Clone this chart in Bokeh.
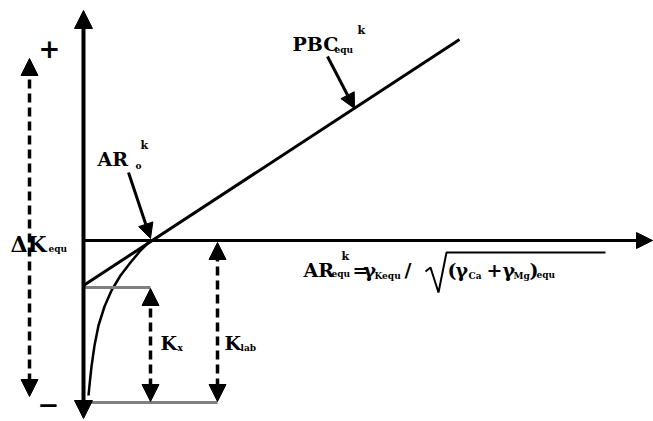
from bokeh.plotting import figure
from bokeh.models import Range1d, Arrow, NormalHead, ColumnDataSource
from bokeh.core.properties import value
from bokeh.embed import file_html
from bokeh.resources import INLINE

# ---- schematic geometry (reference pixel space, y grows downward) ----
pbc_x = [83, 459]
pbc_y = [285, 39]
curve_x = [88, 89.5, 91, 94, 98, 104, 111, 120, 130, 140, 150]
curve_y = [395, 380, 366, 345, 325, 306, 290, 275, 262, 250, 240]
gray_x = [[83, 150], [83, 217]]
gray_y = [[287, 287], [402, 402]]

vaxis = dict(xs=[83], ys=[418], xe=[83], ye=[10])
haxis = dict(xs=[83], ys=[240], xe=[652], ye=[240])
ptr = dict(xs=[128, 327], ys=[172, 56], xe=[150, 354], ye=[238, 108])
dbl = dict(xs=[29, 150, 217], ys=[396, 401, 401], xe=[29, 150, 217], ye=[58, 288, 242])

main_text = ["PBC", "AR", "AR", "=", "\u03b3", "/", "(", "\u03b3", "+", "\u03b3", ")", "K", "K"]
main_x = [292, 97, 303, 352, 363, 404, 447, 455, 486, 502, 529, 160, 224]
main_y = [43, 158, 269, 269, 269, 269, 269, 269, 269, 269, 269, 342, 342]

dk_text = ["\u0394K"]
dk_x = [10]
dk_y = [243]

sub_text = ["equ", "o", "equ", "equ", "Kequ", "Ca", "Mg", "equ", "x", "lab"]
sub_x = [334, 135, 48, 331, 374, 468, 513, 536, 177, 240]
sub_y = [49, 165, 248, 273, 275, 275, 275, 274, 347, 347]

sup_text = ["k", "k", "k"]
sup_x = [357, 140, 341]
sup_y = [30, 145, 256]

sign_text = ["+", "\u2212"]
sign_x = [49, 48]
sign_y = [48, 404]

rad_x = [425, 430, 438, 446, 605]
rad_y = [271, 267, 292, 252, 252]

SERIF_B = value("DejaVu Serif")

p = figure(width=653, height=421, output_backend="svg", toolbar_location=None,
           x_range=Range1d(0, 653), y_range=Range1d(421, 0),
           min_border=0)
p.axis.visible = False
p.xgrid.visible = False
p.ygrid.visible = False
p.outline_line_color = None
p.background_fill_color = "white"

p.line(pbc_x, pbc_y, line_color="black", line_width=3)
p.line(curve_x, curve_y, line_color="black", line_width=2.5)
p.multi_line(gray_x, gray_y, line_color="#808080", line_width=3)
p.line(rad_x, rad_y, line_color="black", line_width=2)

def arrows(d, lw, size, both, dash="solid"):
    src = ColumnDataSource(d)
    kw = dict(x_start="xs", y_start="ys", x_end="xe", y_end="ye", source=src,
              line_color="black", line_width=lw, line_dash=dash,
              end=NormalHead(size=size, fill_color="black", line_color="black", line_width=1))
    kw["start"] = NormalHead(size=size, fill_color="black", line_color="black", line_width=1) if both else None
    p.add_layout(Arrow(**kw))

arrows(vaxis, 4, 18, True)
arrows(haxis, 3, 16, False)
arrows(ptr, 3, 15, False)
arrows(dbl, 3.5, 17, True, "9 5")

p.text(main_x, main_y, text=main_text, text_font=SERIF_B, text_font_style="bold",
       text_font_size="19px", text_baseline="alphabetic", text_align="left", text_color="black")
p.text(dk_x, dk_y, text=dk_text, text_font=SERIF_B, text_font_style="bold",
       text_font_size="22px", text_baseline="alphabetic", text_align="left", text_color="black")
p.text(sub_x, sub_y, text=sub_text, text_font=SERIF_B, text_font_style="bold",
       text_font_size="9px", text_baseline="alphabetic", text_align="left", text_color="black")
p.text(sup_x, sup_y, text=sup_text, text_font=SERIF_B, text_font_style="bold",
       text_font_size="11px", text_baseline="alphabetic", text_align="left", text_color="black")
p.text(sign_x, sign_y, text=sign_text, text_font=SERIF_B, text_font_style="bold",
       text_font_size="26px", text_baseline="middle", text_align="center", text_color="black")

open("out.html", "w").write(file_html(p, INLINE))
